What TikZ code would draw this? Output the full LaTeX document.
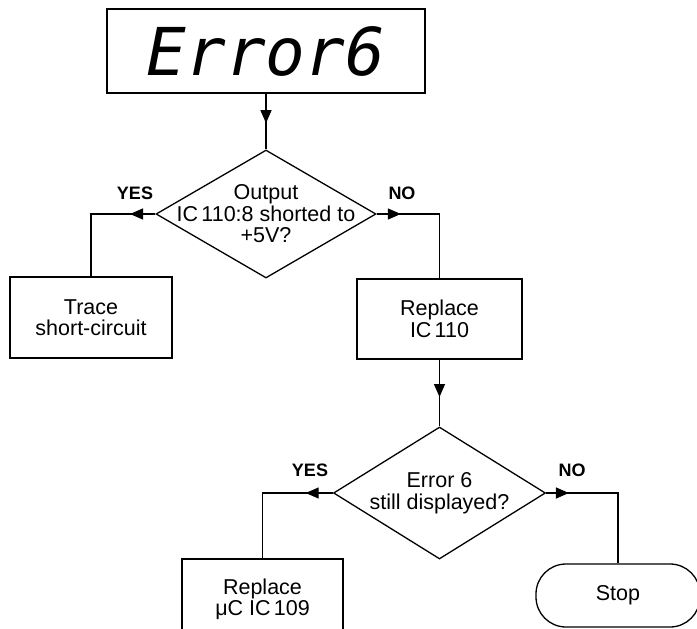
\documentclass[tikz,border=0pt]{standalone}
\usepackage{fontspec}
\setmainfont{Liberation Sans}
\newfontfamily\segfont{DejaVu Sans Mono}
\usetikzlibrary{shapes.geometric,arrows.meta,decorations.markings}
\tikzset{
  box/.style={draw, rectangle, line width=1.3pt, align=center,
    font=\fontsize{21.5}{21.5}\selectfont},
  decision/.style={draw, diamond, line width=1.3pt, inner sep=0pt},
  qtext/.style={align=center, font=\fontsize{21.5}{21.5}\selectfont},
  answer/.style={font=\fontsize{18}{20}\selectfont\bfseries},
  flow/.style={line width=1.3pt},
  midarrow/.style={postaction=decorate, decoration={markings,
    mark=at position #1 with {\arrow{Triangle[length=13pt,width=11pt]}}}},
}
\begin{document}
\begin{tikzpicture}[x=1pt, y=-1pt]
  \useasboundingbox (0,0) rectangle (697,629);
  \clip (0,0) rectangle (697,629);

  % display
  \node[draw, line width=1.3pt, minimum width=318pt, minimum height=84pt,
    font=\segfont\fontsize{66}{66}\selectfont\itshape] (err) at (266,51) {Error6\hspace{12pt}};

  % first question
  \node[decision, minimum width=220pt, minimum height=128pt,
    label={[qtext]center:{Output\\IC\hspace{0.15em}110:8 shorted to\\+5V?}}] (q1) at (266,214) {};
  \node[answer] (yes1) at (135,193) {YES};
  \node[answer] (no1) at (402,193) {NO};
  \node[box, minimum width=162pt, minimum height=81pt] (trace) at (91,317.5) {Trace\\short-circuit};
  \node[box, minimum width=165pt, minimum height=80pt] (rep1) at (439.5,319) {Replace\\IC\hspace{0.15em}110};

  % second question
  \node[decision, minimum width=212pt, minimum height=132pt,
    label={[qtext]center:{Error 6\\still displayed?}}] (q2) at (439.5,493) {};
  \node[answer] (yes2) at (310,470) {YES};
  \node[answer] (no2) at (572,470) {NO};
  \node[box, minimum width=161pt, minimum height=81pt] (rep2) at (262.5,599.5) {Replace\\μC IC\hspace{0.15em}109};
  \node[box, rounded corners=30pt, minimum width=164pt, minimum height=63pt] (stop) at (618,595.5) {Stop};

  % connectors
  \draw[flow, midarrow=0.53] (err.south) -- (q1.north);
  \draw[flow, midarrow=0.2] (q1.west) -| (trace.north);
  \draw[flow, midarrow=0.19] (q1.east) -| (rep1.north);
  \draw[flow, midarrow=0.56] (rep1.south) -- (q2.north);
  \draw[flow, midarrow=0.2] (q2.west) -| (rep2.north);
  \draw[flow, midarrow=0.16] (q2.east) -| (stop.north);
\end{tikzpicture}
\end{document}
